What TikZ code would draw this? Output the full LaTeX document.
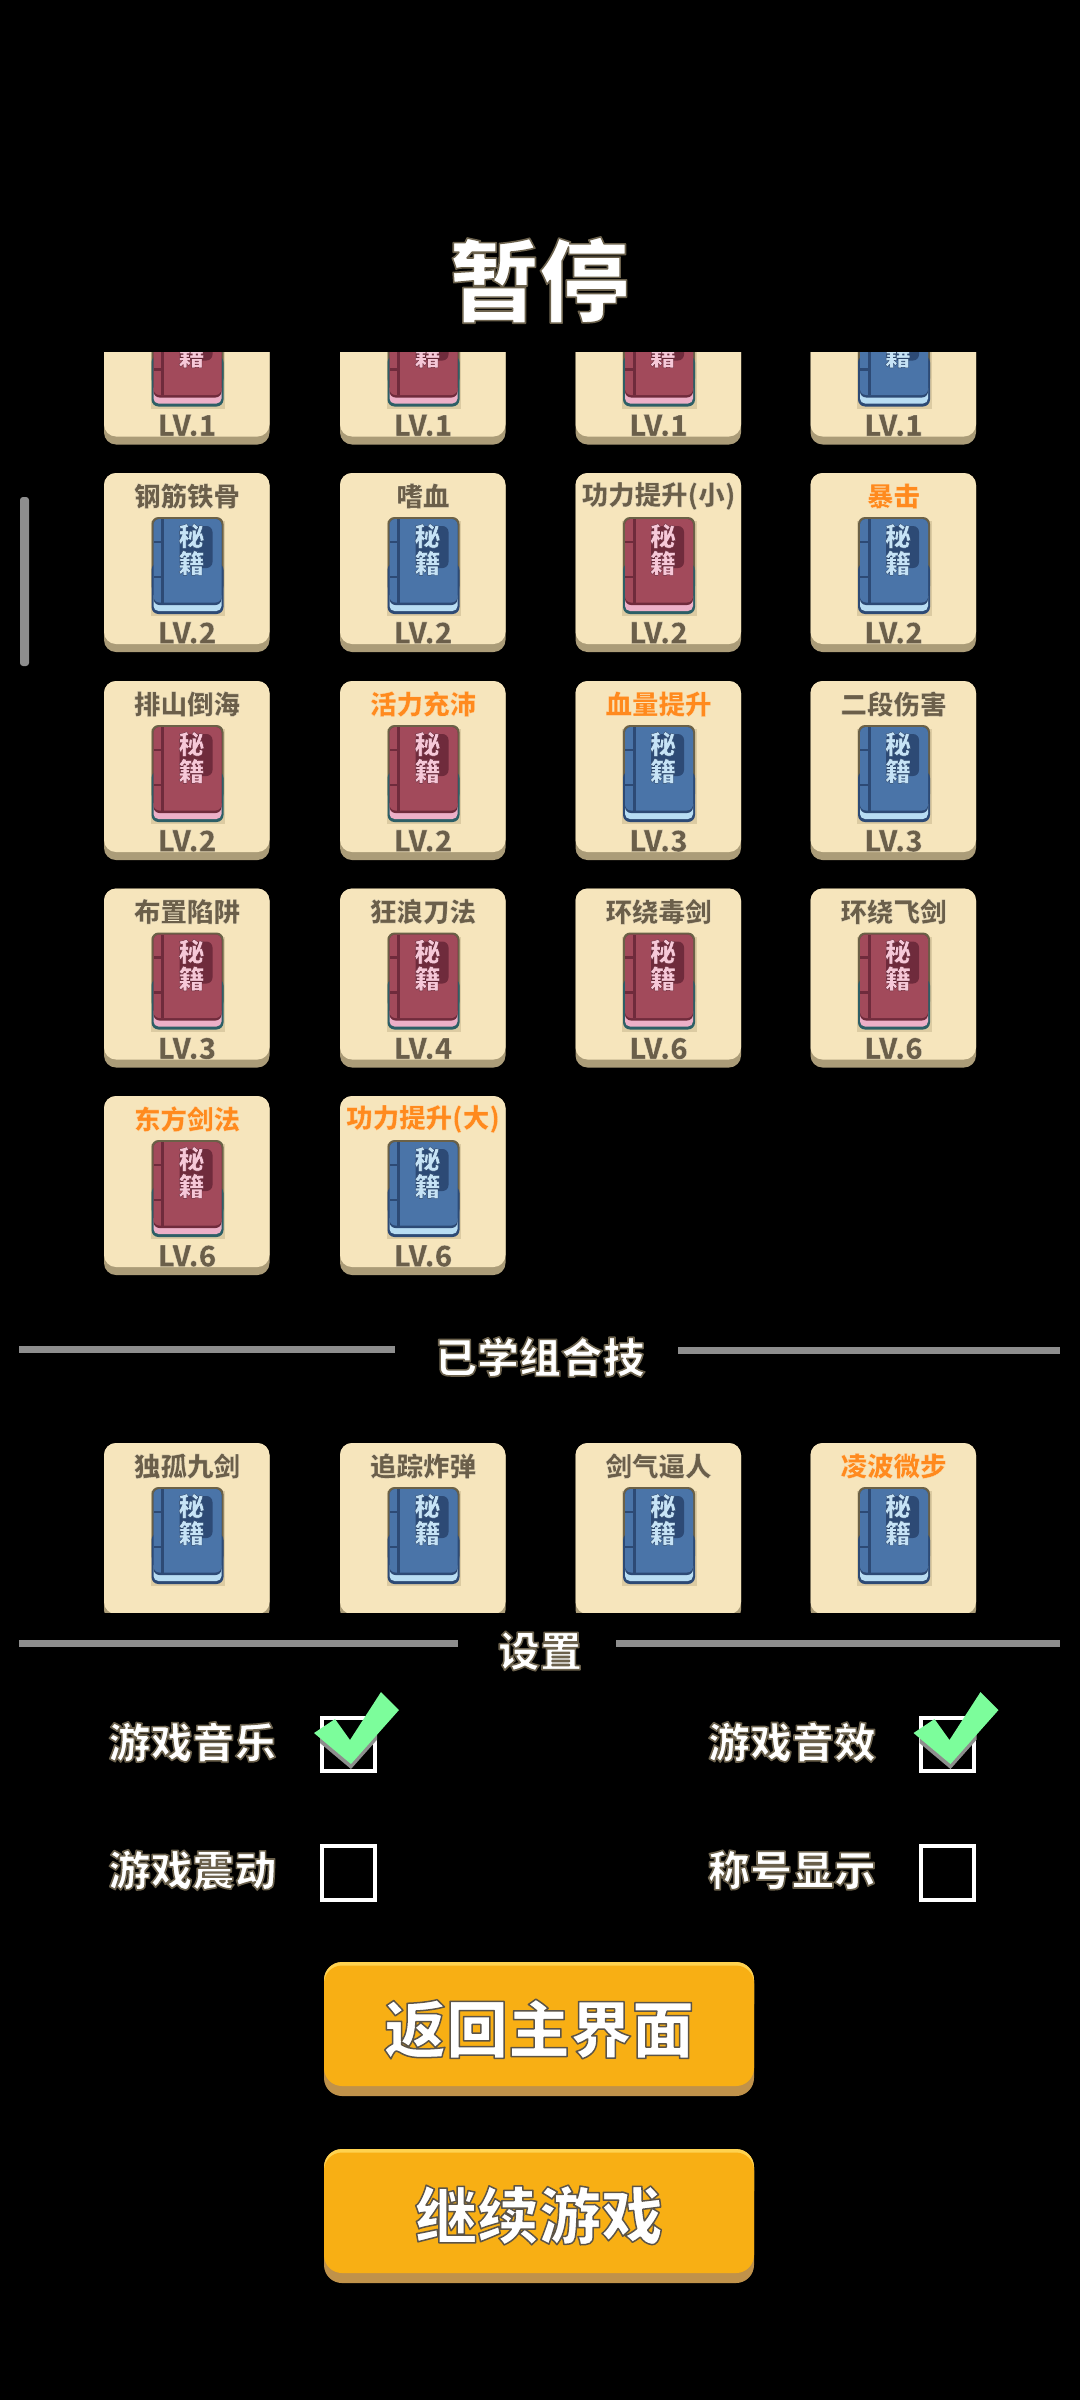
\documentclass[tikz,border=0pt]{standalone}
\usepackage{fontspec}
\setmainfont{Noto Sans CJK SC Black}
\definecolor{cardface}{HTML}{F6E5BC}
\definecolor{cardedge}{HTML}{AB9C78}
\definecolor{cardshade}{HTML}{DCCBA2}
\definecolor{titlebrown}{HTML}{6B5F4A}
\definecolor{titleorange}{HTML}{FF8A1E}
\definecolor{btnface}{HTML}{F8AF14}
\definecolor{btntop}{HTML}{FFD24F}
\definecolor{btnbase}{HTML}{C0924A}
\definecolor{rulegray}{HTML}{8E8E8E}
\definecolor{checkgreen}{HTML}{7CFD9B}
\definecolor{bordertop}{HTML}{6B6147}
\definecolor{coverB}{HTML}{4A74A8}
\definecolor{darkB}{HTML}{2D4A75}
\definecolor{lightB}{HTML}{B8DDF3}
\definecolor{inkB}{HTML}{C6E3F6}
\definecolor{baseB}{HTML}{2D4A75}
\definecolor{coverR}{HTML}{A24A5B}
\definecolor{darkR}{HTML}{6F2B3C}
\definecolor{lightR}{HTML}{EDB0C8}
\definecolor{inkR}{HTML}{F6C8D8}
\definecolor{baseR}{HTML}{2D5F66}
\def\strokeB{0.16 0.26 0.40}
\def\strokeR{0.38 0.14 0.20}
\def\stroketitlebrown{0.97 0.93 0.82}
\def\stroketitleorange{0.99 0.90 0.74}
% outlined text: #1 line width, #2 stroke rgb, #3 text
\newcommand{\outlined}[3]{\special{pdf:literal direct q #1 w #2 RG 1 j 2 Tr}#3\special{pdf:literal direct Q}}
\newcommand{\whitetext}[1]{\outlined{1.6}{0.42 0.38 0.30}{#1}}
\tikzset{
  cardtitle/.style={inner sep=0pt,font=\fontsize{26.5}{27}\selectfont},
  lvtext/.style={inner sep=0pt,text=titlebrown,font=\fontsize{29}{29}\selectfont},
  inkstyle/.style={inner sep=0pt,font=\fontsize{26}{26}\selectfont},
  headtext/.style={inner sep=0pt,text=white,font=\fontsize{42}{42}\selectfont},
  btntext/.style={inner sep=0pt,text=white,font=\fontsize{62}{62}\selectfont},
  checkbox/.style={draw=white,line width=4pt,fill=none},
}
% #1 name, #2 x, #3 y, #4 R or B
\newcommand{\bookicon}[4]{%
  \begin{scope}[shift={(#2,#3)}]
    \fill[cardshade] (46.5,48) rectangle (121,143);
    \fill[bordertop,rounded corners=7pt] (47.5,44) rectangle (119.5,120);
    \fill[base#4,rounded corners=7pt] (47.5,90) rectangle (119.5,141);
    \fill[light#4,rounded corners=5pt] (49.5,118) rectangle (117.5,138);
    \fill[dark#4,rounded corners=6pt] (49.5,46) rectangle (117.5,132);
    \fill[cover#4,rounded corners=6pt] (49.5,46) rectangle (117.5,129.5);
    \fill[dark#4] (57,46) rectangle (60,129.5);
    \fill[dark#4] (49.5,67.7) rectangle (57.5,70.3);
    \fill[dark#4] (49.5,102.7) rectangle (57.5,105.3);
    \fill[dark#4,rounded corners=6pt] (75.5,53) rectangle (108.5,95);
    \node[inkstyle,text=ink#4] (#1a) at (87.5,63) {\outlined{0.35}{\csname stroke#4\endcsname}{秘}};
    \node[inkstyle,text=ink#4] (#1b) at (87.5,90) {\outlined{0.35}{\csname stroke#4\endcsname}{籍}};
  \end{scope}}
% #1 name, #2 x, #3 y, #4 R/B, #5 title, #6 title colour, #7 level
\newcommand{\skillcard}[7]{%
  \fill[cardedge,rounded corners=12pt] (#2,#3) rectangle ++(165.5,179);
  \fill[cardface,rounded corners=12pt] (#2,#3) rectangle ++(165.5,171);
  \bookicon{#1}{#2}{#3}{#4}
  \node[cardtitle,text=#6] (#1t) at ($(#2,#3)+(83,23)$) {\outlined{0.25}{\csname stroke#6\endcsname}{#5}};
  \node[lvtext] (#1l) at ($(#2,#3)+(83,160)$) {\outlined{0.25}{\stroketitlebrown}{#7}};
}
\newcommand{\gamebutton}[4]{%
  \fill[btnbase,rounded corners=18pt] (324,#2) rectangle (754,#2+134);
  \fill[btntop,rounded corners=18pt] (324,#2) rectangle (754,#2+60);
  \fill[btnface,rounded corners=18pt] (324,#2+3.5) rectangle (754,#2+124);
  \node[btntext] (#1) at (539,#2+#3) {\outlined{1.5}{0.36 0.33 0.28}{#4}};
}
\usetikzlibrary{calc}
\begin{document}
\begin{tikzpicture}[x=1pt,y=-1pt]
\useasboundingbox (0,0) rectangle (1080,2400);
\fill[black] (0,0) rectangle (1080,2400);
\node[inner sep=0pt,text=white,font=\fontsize{90}{90}\selectfont] (title) at (539,280) {\whitetext{暂停}};
\fill[rulegray,rounded corners=3pt] (20,497) rectangle (29,666);
\begin{scope}
\clip (0,352) rectangle (1080,1340);
\skillcard{a}{104}{265.5}{R}{}{titlebrown}{LV.1}
\skillcard{b}{340}{265.5}{R}{}{titlebrown}{LV.1}
\skillcard{c}{575.5}{265.5}{R}{}{titlebrown}{LV.1}
\skillcard{d}{810.5}{265.5}{B}{}{titlebrown}{LV.1}
\skillcard{e}{104}{473}{B}{钢筋铁骨}{titlebrown}{LV.2}
\skillcard{f}{340}{473}{B}{嗜血}{titlebrown}{LV.2}
\skillcard{g}{575.5}{473}{R}{功力提升(小)}{titlebrown}{LV.2}
\skillcard{h}{810.5}{473}{B}{暴击}{titleorange}{LV.2}
\skillcard{i}{104}{681}{R}{排山倒海}{titlebrown}{LV.2}
\skillcard{j}{340}{681}{R}{活力充沛}{titleorange}{LV.2}
\skillcard{k}{575.5}{681}{B}{血量提升}{titleorange}{LV.3}
\skillcard{l}{810.5}{681}{B}{二段伤害}{titlebrown}{LV.3}
\skillcard{m}{104}{888.5}{R}{布置陷阱}{titlebrown}{LV.3}
\skillcard{n}{340}{888.5}{R}{狂浪刀法}{titlebrown}{LV.4}
\skillcard{o}{575.5}{888.5}{R}{环绕毒剑}{titlebrown}{LV.6}
\skillcard{p}{810.5}{888.5}{R}{环绕飞剑}{titlebrown}{LV.6}
\skillcard{q}{104}{1096}{R}{东方剑法}{titleorange}{LV.6}
\skillcard{r}{340}{1096}{B}{功力提升(大)}{titleorange}{LV.6}
\end{scope}
\fill[rulegray] (19,1346) rectangle (395,1353);
\fill[rulegray] (678,1346.5) rectangle (1060,1353.5);
\node[headtext] (learned) at (540,1357) {\whitetext{已学组合技}};
\begin{scope}
\clip (0,1400) rectangle (1080,1612);
\skillcard{s}{104}{1443}{B}{独孤九剑}{titlebrown}{}
\skillcard{t}{340}{1443}{B}{追踪炸弹}{titlebrown}{}
\skillcard{u}{575.5}{1443}{B}{剑气逼人}{titlebrown}{}
\skillcard{v}{810.5}{1443}{B}{凌波微步}{titleorange}{}
\end{scope}
\fill[rulegray] (19,1640) rectangle (458,1647);
\fill[rulegray] (616,1640) rectangle (1060,1647);
\node[headtext] (settings) at (540,1651) {\whitetext{设置}};
\node[headtext] (music) at (192.5,1742) {\whitetext{游戏音乐}};
\node[headtext] (sound) at (792,1742) {\whitetext{游戏音效}};
\node[headtext] (shake) at (192.5,1870) {\whitetext{游戏震动}};
\node[headtext] (badge) at (792,1870) {\whitetext{称号显示}};
\draw[checkbox] (322,1718) rectangle (375,1771);
\draw[checkbox] (921,1718) rectangle (974,1771);
\draw[checkbox] (322,1846) rectangle (375,1900);
\draw[checkbox] (921,1846) rectangle (974,1900);
\foreach \dx in {0,599.5}{
  \begin{scope}[shift={(\dx,0)}]
    \begin{scope}
      \clip (320,1716) rectangle (377,1773);
      \fill[rulegray] (314,1738) -- (335,1724) -- (350,1745) -- (381,1697) -- (399,1715) -- (351,1769) -- cycle;
    \end{scope}
    \fill[checkgreen] (314,1733) -- (335,1719) -- (350,1740) -- (381,1692) -- (399,1710) -- (351,1764) -- cycle;
  \end{scope}
}
\gamebutton{backbtn}{1962}{67}{返回主界面}
\gamebutton{contbtn}{2149}{66}{继续游戏}
\end{tikzpicture}
\end{document}
